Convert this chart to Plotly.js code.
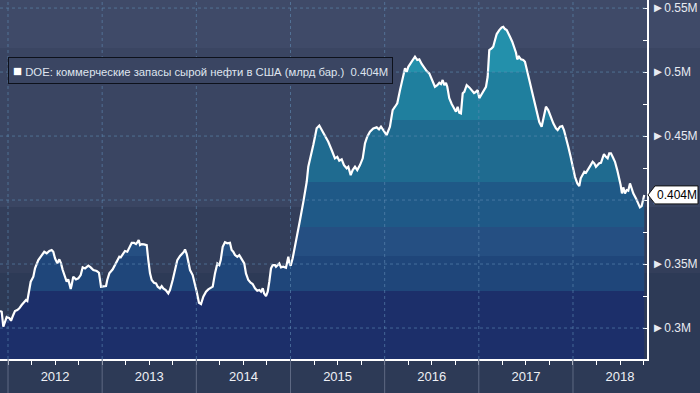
<!DOCTYPE html>
<html><head><meta charset="utf-8">
<script src="https://cdn.plot.ly/plotly-3.0.1.min.js"></script>
<style>html,body{margin:0;padding:0;background:#2c3a55;}#chart{width:700px;height:393px;}</style>
</head><body><div id="chart"></div>
<script>
// ---- data (time as decimal years, stocks in "M") ----
const years = [2012, 2013, 2014, 2015, 2016, 2017, 2018];
const yearLabels = ['2012', '2013', '2014', '2015', '2016', '2017', '2018'];
const yTickVals = [0.3, 0.35, 0.4, 0.45, 0.5, 0.55];
const yTickLabels = ['0.3M', '0.35M', '0.4M', '0.45M', '0.5M', '0.55M'];
const seriesName = 'DOE: коммерческие запасы сырой нефти в США (млрд бар.)';
const t = [
2011.915,2011.933,2011.950,2011.968,2011.986,2012.014,2012.032,2012.056,2012.074,2012.099,
2012.120,2012.145,2012.170,2012.191,2012.205,2012.226,2012.241,2012.269,2012.287,2012.322,
2012.358,2012.385,2012.411,2012.439,2012.464,2012.481,2012.499,2012.524,2012.545,2012.563,
2012.581,2012.605,2012.623,2012.640,2012.651,2012.666,2012.676,2012.693,2012.722,2012.747,
2012.772,2012.793,2012.818,2012.853,2012.878,2012.906,2012.942,2012.966,2012.988,2013.012,
2013.041,2013.054,2013.076,2013.112,2013.136,2013.161,2013.182,2013.197,2013.218,2013.242,
2013.267,2013.288,2013.314,2013.338,2013.359,2013.373,2013.388,2013.402,2013.420,2013.444,
2013.473,2013.490,2013.508,2013.526,2013.550,2013.572,2013.590,2013.614,2013.632,2013.649,
2013.675,2013.702,2013.720,2013.749,2013.773,2013.798,2013.827,2013.855,2013.869,2013.880,
2013.898,2013.915,2013.933,2013.961,2013.986,2014.004,2014.028,2014.050,2014.074,2014.103,
2014.127,2014.145,2014.174,2014.198,2014.223,2014.244,2014.259,2014.280,2014.304,2014.329,
2014.357,2014.375,2014.392,2014.411,2014.435,2014.456,2014.477,2014.492,2014.509,2014.527,
2014.552,2014.577,2014.598,2014.623,2014.647,2014.669,2014.687,2014.705,2014.719,2014.740,
2014.758,2014.775,2014.793,2014.811,2014.835,2014.846,2014.864,2014.881,2014.899,2014.923,
2014.952,2014.966,2014.977,2014.987,2015.002,2015.023,2015.048,2015.072,2015.101,2015.136,
2015.172,2015.189,2015.207,2015.225,2015.242,2015.260,2015.278,2015.306,2015.331,2015.366,
2015.401,2015.437,2015.472,2015.497,2015.518,2015.544,2015.568,2015.597,2015.614,2015.639,
2015.660,2015.685,2015.709,2015.738,2015.767,2015.791,2015.815,2015.844,2015.879,2015.915,
2015.940,2015.961,2015.985,2016.003,2016.021,2016.056,2016.085,2016.110,2016.134,2016.163,
2016.191,2016.216,2016.234,2016.251,2016.287,2016.322,2016.346,2016.368,2016.393,2016.418,
2016.446,2016.474,2016.499,2016.534,2016.559,2016.580,2016.598,2016.616,2016.633,2016.651,
2016.665,2016.686,2016.712,2016.736,2016.757,2016.775,2016.792,2016.810,2016.829,2016.846,
2016.871,2016.899,2016.924,2016.949,2016.970,2016.988,2017.005,2017.030,2017.055,2017.076,
2017.094,2017.111,2017.136,2017.153,2017.172,2017.190,2017.217,2017.243,2017.260,2017.278,
2017.296,2017.313,2017.331,2017.355,2017.376,2017.395,2017.408,2017.426,2017.448,2017.472,
2017.490,2017.508,2017.536,2017.561,2017.586,2017.614,2017.642,2017.667,2017.692,2017.713,
2017.737,2017.763,2017.791,2017.819,2017.837,2017.862,2017.886,2017.904,2017.925,2017.950,
2017.975,2017.997,2018.021,2018.046,2018.067,2018.082,2018.103,2018.120,2018.138,2018.162,
2018.188,2018.209,2018.226,2018.244,2018.262,2018.279,2018.297,2018.315,2018.329,2018.350,
2018.368,2018.385,2018.403,2018.421,2018.446,2018.470,2018.492,2018.506,2018.520,2018.534,
2018.552,2018.570,2018.587,2018.605,2018.623,2018.640,2018.669,2018.693,2018.711,2018.729,
2018.746,2018.757];
const stocks = [
0.3133,0.3127,0.3010,0.3049,0.3086,0.3078,0.3057,0.3102,0.3133,0.3141,
0.3154,0.3180,0.3205,0.3219,0.3211,0.3297,0.3362,0.3401,0.3466,0.3531,
0.3570,0.3596,0.3584,0.3602,0.3609,0.3596,0.3545,0.3505,0.3537,0.3505,
0.3453,0.3401,0.3362,0.3380,0.3349,0.3305,0.3336,0.3401,0.3380,0.3388,
0.3414,0.3474,0.3466,0.3487,0.3474,0.3453,0.3445,0.3432,0.3323,0.3323,
0.3328,0.3375,0.3427,0.3459,0.3492,0.3531,0.3557,0.3552,0.3578,0.3602,
0.3596,0.3623,0.3666,0.3666,0.3656,0.3670,0.3688,0.3648,0.3656,0.3654,
0.3648,0.3531,0.3427,0.3375,0.3354,0.3349,0.3323,0.3310,0.3328,0.3310,
0.3297,0.3271,0.3297,0.3375,0.3453,0.3531,0.3563,0.3588,0.3596,0.3615,
0.3578,0.3518,0.3453,0.3414,0.3349,0.3284,0.3198,0.3188,0.3245,0.3284,
0.3302,0.3310,0.3323,0.3427,0.3505,0.3492,0.3531,0.3635,0.3670,0.3662,
0.3666,0.3609,0.3596,0.3570,0.3557,0.3570,0.3545,0.3531,0.3505,0.3427,
0.3375,0.3354,0.3344,0.3310,0.3291,0.3297,0.3284,0.3310,0.3271,0.3250,
0.3284,0.3362,0.3466,0.3492,0.3492,0.3479,0.3492,0.3505,0.3474,0.3479,
0.3471,0.3518,0.3557,0.3510,0.3487,0.3545,0.3635,0.3713,0.3844,0.3984,
0.4141,0.4260,0.4328,0.4391,0.4430,0.4495,0.4560,0.4582,0.4547,0.4508,
0.4455,0.4391,0.4326,0.4338,0.4307,0.4318,0.4273,0.4248,0.4260,0.4195,
0.4234,0.4260,0.4234,0.4273,0.4326,0.4443,0.4495,0.4534,0.4560,0.4568,
0.4552,0.4573,0.4547,0.4521,0.4508,0.4573,0.4703,0.4729,0.4756,0.4859,
0.4938,0.5029,0.5002,0.5041,0.5081,0.5120,0.5094,0.5099,0.5063,0.5035,
0.5008,0.4990,0.4945,0.4885,0.4898,0.4916,0.4906,0.4938,0.4898,0.4916,
0.4885,0.4795,0.4750,0.4716,0.4690,0.4729,0.4682,0.4677,0.4834,0.4846,
0.4898,0.4880,0.4859,0.4836,0.4846,0.4859,0.4795,0.4828,0.4859,0.4885,
0.4963,0.5172,0.5185,0.5198,0.5250,0.5297,0.5328,0.5349,0.5354,0.5336,
0.5328,0.5297,0.5276,0.5237,0.5198,0.5151,0.5099,0.5120,0.5099,0.5094,
0.5081,0.5016,0.4938,0.4859,0.4781,0.4690,0.4609,0.4573,0.4651,0.4729,
0.4703,0.4651,0.4599,0.4560,0.4547,0.4573,0.4578,0.4547,0.4495,0.4416,
0.4338,0.4260,0.4182,0.4130,0.4109,0.4170,0.4195,0.4221,0.4213,0.4248,
0.4273,0.4299,0.4287,0.4260,0.4273,0.4287,0.4291,0.4326,0.4359,0.4338,
0.4326,0.4365,0.4365,0.4338,0.4299,0.4234,0.4170,0.4117,0.4052,0.4099,
0.4052,0.4078,0.4073,0.4130,0.4091,0.4052,0.4013,0.3974,0.3943,0.3953,
0.4000,0.4040];

// ---- styling ----
const FONT = 'Liberation Sans, Arial, sans-serif';
const W = 700, H = 393, ML = 0, MR = 53, MT = 0, MB = 34;
const PW = W - ML - MR, PH = H - MT - MB;
const xRange = [2011.915, 2018.786];
const yRange = [0.2758, 0.5563];
const bandEdges = [0.329, 0.356, 0.379, 0.414, 0.4625, 0.50];
const bandColors = ['#1c2f6a', '#1f467a', '#254f82', '#1f5987', '#1f6b90', '#1f7f9e', '#2390ab'];
const gStart = 0.27, gStop = 0.56;
const cs = [];
bandColors.forEach((c, i) => {
  const lo = i === 0 ? 0 : (bandEdges[i - 1] - gStart) / (gStop - gStart);
  const hi = i === bandColors.length - 1 ? 1 : (bandEdges[i] - gStart) / (gStop - gStart);
  cs.push([lo, c]); cs.push([hi, c]);
});

const lastV = stocks[stocks.length - 1];
const lastLabel = lastV.toFixed(3) + 'M';

const px2x = p => p / PW;          // paper x from plot pixel
const py2y = p => 1 - p / PH;      // paper y from plot pixel

const shapes = [];
// background bands
const bg = [[0, 48, '#3f4a68'], [48, 207, '#3a4562'], [207, 273, '#333e5a'], [273, H, '#2d3a56']];
bg.forEach(b => shapes.push({type: 'rect', xref: 'paper', yref: 'paper', layer: 'below',
  x0: -0.01, x1: W / PW + 0.01, y0: py2y(b[1]), y1: py2y(b[0]), line: {width: 0}, fillcolor: b[2]}));
// horizontal dotted gridlines
yTickVals.forEach(v => shapes.push({type: 'line', xref: 'paper', yref: 'y', layer: 'above',
  x0: 0, x1: 1, y0: v, y1: v, line: {color: 'rgba(95,140,180,0.6)', width: 1, dash: 'dot'}}));
// vertical dotted gridlines at year starts + separators below axis
years.forEach(y => {
  shapes.push({type: 'line', xref: 'x', yref: 'paper', layer: 'above',
    x0: y, x1: y, y0: 0, y1: 1, line: {color: 'rgba(95,140,180,0.6)', width: 1, dash: 'dot'}});
  shapes.push({type: 'line', xref: 'x', yref: 'paper', layer: 'above',
    x0: y, x1: y, y0: -MB / PH, y1: 0, line: {color: '#5e6983', width: 1}});
});
// last value flag
const hh = 9 / PH * (yRange[1] - yRange[0]);
shapes.push({type: 'path', xref: 'paper', yref: 'y', layer: 'above',
  path: `M ${px2x(648)},${lastV} L ${px2x(655)},${lastV + hh} L ${px2x(698)},${lastV + hh} L ${px2x(698)},${lastV - hh} L ${px2x(655)},${lastV - hh} Z`,
  fillcolor: '#ffffff', line: {color: '#111111', width: 1}});

const traces = [{
  x: t, y: stocks, type: 'scatter', mode: 'lines',
  line: {color: '#ffffff', width: 2.2},
  fill: 'tozeroy',
  fillgradient: {type: 'vertical', start: gStart, stop: gStop, colorscale: cs},
  hoverinfo: 'skip', showlegend: false
}];

const layout = {
  width: W, height: H,
  margin: {l: ML, r: MR, t: MT, b: MB, pad: 0},
  paper_bgcolor: '#2d3a56', plot_bgcolor: 'rgba(0,0,0,0)',
  showlegend: false,
  font: {family: FONT, color: '#e8ebf2', size: 12},
  xaxis: {
    type: 'linear', range: xRange, fixedrange: true,
    tickmode: 'array', tickvals: years.map(y => y + 0.5), ticktext: yearLabels,
    ticks: 'outside', ticklen: 4, tickcolor: '#ffffff', tickwidth: 1,
    minor: {tickmode: 'linear', tick0: 2012, dtick: 0.25, ticks: 'outside', ticklen: 4, tickcolor: '#ffffff', showgrid: false},
    showgrid: false, zeroline: false,
    showline: true, linecolor: '#ffffff', linewidth: 2,
    tickfont: {family: 'Liberation Sans Narrow, ' + FONT, size: 13, color: '#eef0f5'}
  },
  yaxis: {
    side: 'right', range: yRange, fixedrange: true,
    tickmode: 'array', tickvals: yTickVals,
    ticktext: yTickLabels.map(s => '<span style="font-size:13px">►</span>' + s),
    ticks: '', showgrid: false, zeroline: false,
    minor: {tickmode: 'linear', tick0: 0.3, dtick: 0.025, ticks: 'inside', ticklen: 4, tickcolor: '#ffffff', showgrid: false},
    showline: true, linecolor: '#ffffff', linewidth: 2,
    tickfont: {family: FONT, size: 12, color: '#e8ebf2'}
  },
  shapes: shapes,
  annotations: [
    {xref: 'paper', yref: 'paper', x: px2x(8), y: py2y(57), xanchor: 'left', yanchor: 'top',
     showarrow: false, align: 'left',
     text: '<span style="color:#ffffff;font-size:15px">■</span> ' + seriesName + '  ' + lastLabel,
     font: {family: FONT, size: 11.3, color: '#dfe4ee'},
     bgcolor: '#3a4562', bordercolor: '#0d111b', borderwidth: 1, borderpad: 4},
    {xref: 'paper', yref: 'y', x: px2x(677), y: lastV, xanchor: 'center', yanchor: 'middle',
     showarrow: false, text: lastLabel, font: {family: FONT, size: 12, color: '#000000'}}
  ]
};

Plotly.newPlot('chart', traces, layout, {displayModeBar: false, staticPlot: true});
</script>
</body></html>
